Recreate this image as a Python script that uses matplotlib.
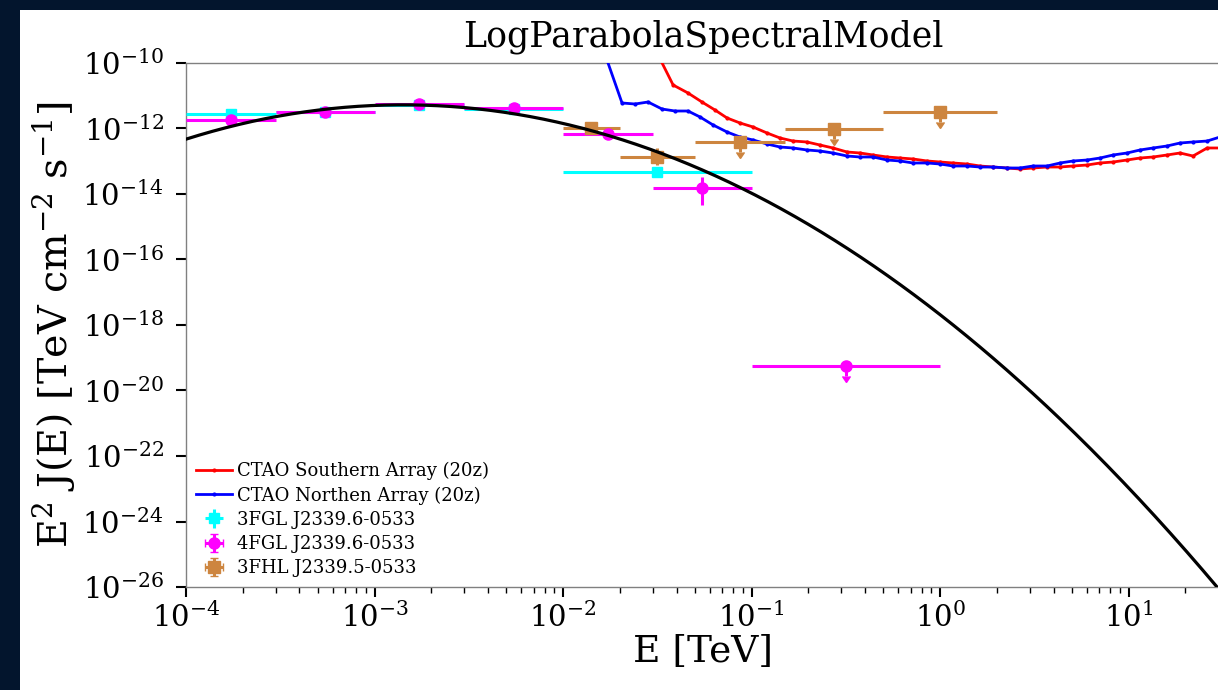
import numpy as np
import matplotlib
matplotlib.use("Agg")
import matplotlib.pyplot as plt
from matplotlib.patches import Rectangle
from matplotlib.ticker import LogLocator, NullLocator, NullFormatter

plt.rcParams['font.family'] = ['DejaVu Serif']
plt.rcParams['mathtext.fontset'] = 'dejavuserif'

# ---------------- data ----------------
# LogParabola model parameters (E^2 dN/dE, TeV cm^-2 s^-1)
model_amplitude = 5.06e-6      # TeV^-1 cm^-2 s^-1
model_reference = 1e-3         # TeV
model_alpha = 1.76
model_beta = 0.343
model_emin, model_emax = 1e-4, 40.0

# CTAO sensitivity curves (log10 E [TeV], log10 E^2 F)
south_log_e = [-1.549, -1.416, -1.337, -1.263, -1.194, -1.130, -1.061, -0.992, -0.918, -0.849,
               -0.780, -0.706, -0.637, -0.568, -0.493, -0.424, -0.355, -0.281, -0.212, -0.143,
               -0.069, 0.000, 0.069, 0.143, 0.212, 0.281, 0.355, 0.424, 0.493, 0.568,
               0.637, 0.706, 0.780, 0.849, 0.918, 0.992, 1.061, 1.130, 1.204, 1.273,
               1.342, 1.417, 1.485]
south_log_flux = [-9.145, -10.672, -10.916, -11.191, -11.435, -11.679, -11.832, -11.954, -12.137, -12.290,
                  -12.382, -12.412, -12.504, -12.595, -12.718, -12.748, -12.809, -12.870, -12.901, -12.931,
                  -12.992, -13.023, -13.053, -13.084, -13.145, -13.176, -13.206, -13.237, -13.206, -13.176,
                  -13.176, -13.145, -13.115, -13.053, -13.023, -12.962, -12.901, -12.870, -12.809, -12.748,
                  -12.840, -12.595, -12.595]

north_log_e = [-1.830, -1.687, -1.618, -1.549, -1.475, -1.406, -1.337, -1.273, -1.204, -1.130,
               -1.061, -0.992, -0.918, -0.849, -0.780, -0.706, -0.637, -0.568, -0.493, -0.424,
               -0.355, -0.281, -0.212, -0.143, -0.069, 0.000, 0.069, 0.143, 0.212, 0.281,
               0.355, 0.424, 0.493, 0.568, 0.637, 0.706, 0.780, 0.849, 0.918, 0.992,
               1.061, 1.130, 1.204, 1.273, 1.342, 1.417, 1.485]
north_log_flux = [-8.870, -11.221, -11.252, -11.191, -11.405, -11.466, -11.466, -11.649, -11.893, -12.107,
                  -12.260, -12.351, -12.473, -12.565, -12.595, -12.656, -12.687, -12.748, -12.840, -12.870,
                  -12.870, -12.962, -12.992, -13.053, -13.053, -13.084, -13.145, -13.145, -13.176, -13.176,
                  -13.206, -13.206, -13.145, -13.145, -13.053, -12.992, -12.962, -12.901, -12.809, -12.748,
                  -12.656, -12.595, -12.534, -12.443, -12.412, -12.382, -12.260]

# 3FGL J2339.6-0533
fgl3_e = [1.73e-4, 5.48e-4, 1.73e-3, 5.48e-3, 3.16e-2]
fgl3_e_lo = [1e-4, 3e-4, 1e-3, 3e-3, 1e-2]
fgl3_e_hi = [3e-4, 1e-3, 3e-3, 1e-2, 1e-1]
fgl3_flux = [2.8e-12, 3.2e-12, 5.4e-12, 4.0e-12, 4.7e-14]
fgl3_err_lo = [0.3e-12, 0.3e-12, 0.4e-12, 0.4e-12, 0.5e-14]
fgl3_err_hi = [0.3e-12, 0.3e-12, 0.4e-12, 0.4e-12, 0.5e-14]

# 4FGL J2339.6-0533
fgl4_e = [1.73e-4, 5.48e-4, 1.73e-3, 5.48e-3, 1.73e-2, 5.48e-2, 3.16e-1]
fgl4_e_lo = [1e-4, 3e-4, 1e-3, 3e-3, 1e-2, 3e-2, 1e-1]
fgl4_e_hi = [3e-4, 1e-3, 3e-3, 1e-2, 3e-2, 1e-1, 1.0]
fgl4_flux = [1.8e-12, 3.2e-12, 5.6e-12, 4.2e-12, 6.8e-13, 1.5e-14, 5.6e-20]
fgl4_err_lo = [0.2e-12, 0.2e-12, 0.3e-12, 0.4e-12, 1.0e-13, 1.05e-14, 2.8e-20]
fgl4_err_hi = [0.2e-12, 0.2e-12, 0.3e-12, 0.4e-12, 1.0e-13, 1.8e-14, 0.0]
fgl4_ul = [False, False, False, False, False, False, True]

# 3FHL J2339.5-0533
fhl3_e = [1.41e-2, 3.16e-2, 8.66e-2, 2.74e-1, 1.0]
fhl3_e_lo = [1e-2, 2e-2, 5e-2, 1.5e-1, 5e-1]
fhl3_e_hi = [2e-2, 5e-2, 1.5e-1, 5e-1, 2.0]
fhl3_flux = [1.04e-12, 1.35e-13, 3.9e-13, 9.7e-13, 3.2e-12]
fhl3_err_lo = [0.2e-12, 0.6e-13, 1.95e-13, 4.85e-13, 1.6e-12]
fhl3_err_hi = [0.25e-12, 1.15e-13, 0.0, 0.0, 0.0]
fhl3_ul = [False, False, True, True, True]

# ---------------- figure ----------------
W, H = 1218, 690
fig = plt.figure(figsize=(W / 100, H / 100), dpi=100, facecolor='#03152d')
fig.patches.append(Rectangle((20 / W, 0), 1, 680 / H, transform=fig.transFigure,
                             facecolor='white', edgecolor='none', zorder=-10))
ax = fig.add_axes([186 / W, 103 / H, (1220 - 186) / W, 524 / H])
ax.set_zorder(1)
ax.set_xscale('log')
ax.set_yscale('log')

# model
energy = np.logspace(np.log10(model_emin), np.log10(model_emax), 400)
xr = energy / model_reference
e2dnde = model_amplitude * energy ** 2 * xr ** (-model_alpha - model_beta * np.log(xr))
ax.plot(energy, e2dnde, color='black', lw=2.3, zorder=6)

# sensitivities
ax.plot(10 ** np.array(south_log_e), 10 ** np.array(south_log_flux), color='red', lw=2.0,
        marker='.', ms=4, label='CTAO Southern Array (20z)', zorder=3)
ax.plot(10 ** np.array(north_log_e), 10 ** np.array(north_log_flux), color='blue', lw=2.0,
        marker='.', ms=4, label='CTAO Northen Array (20z)', zorder=3)


def points(e, elo, ehi, f, flo, fhi, color, marker, ms, label, ul=None):
    e = np.array(e)
    xerr = [e - np.array(elo), np.array(ehi) - e]
    yerr = [np.array(flo), np.array(fhi)]
    kw = {}
    if ul is not None:
        kw['uplims'] = np.array(ul)
    ax.errorbar(e, f, xerr=xerr, yerr=yerr, fmt=marker, color=color, ms=ms,
                elinewidth=2.2, capsize=0, label=label, zorder=4, **kw)


points(fgl3_e, fgl3_e_lo, fgl3_e_hi, fgl3_flux, fgl3_err_lo, fgl3_err_hi,
       'cyan', 's', 7, '3FGL J2339.6-0533')
points(fgl4_e, fgl4_e_lo, fgl4_e_hi, fgl4_flux, fgl4_err_lo, fgl4_err_hi,
       'magenta', 'o', 8, '4FGL J2339.6-0533', fgl4_ul)
points(fhl3_e, fhl3_e_lo, fhl3_e_hi, fhl3_flux, fhl3_err_lo, fhl3_err_hi,
       'peru', 's', 8.5, '3FHL J2339.5-0533', fhl3_ul)

ax.set_xlim(1e-4, 10 ** 1.485)
ax.set_ylim(1e-26, 1e-10)
ax.set_yticks(10.0 ** np.arange(-26, -9, 2))
ax.yaxis.set_minor_locator(NullLocator())
ax.xaxis.set_major_locator(LogLocator(base=10, numticks=20))
ax.xaxis.set_minor_locator(LogLocator(base=10, subs=np.arange(2, 10), numticks=20))
ax.xaxis.set_minor_formatter(NullFormatter())

for s in ax.spines.values():
    s.set_color('#808080')
    s.set_linewidth(1.0)
ax.tick_params(which='major', length=7, width=1.5, labelsize=21)
ax.tick_params(axis='x', which='major', pad=4)
ax.tick_params(axis='y', which='major', pad=9)
ax.tick_params(which='minor', length=4, width=1.0)

ax.set_title('LogParabolaSpectralModel', fontsize=25, pad=12)
ax.set_xlabel('E [TeV]', fontsize=27, labelpad=1)
ax.set_ylabel(r'E$^2$ J(E) [TeV cm$^{-2}$ s$^{-1}$]', fontsize=28.5, labelpad=4)

ax.legend(loc='lower left', fontsize=13, frameon=False, handlelength=2.0,
          handletextpad=0.3, labelspacing=0.34, borderpad=0.2, borderaxespad=0.35)

fig.savefig('out.png', dpi=100, facecolor=fig.get_facecolor())
